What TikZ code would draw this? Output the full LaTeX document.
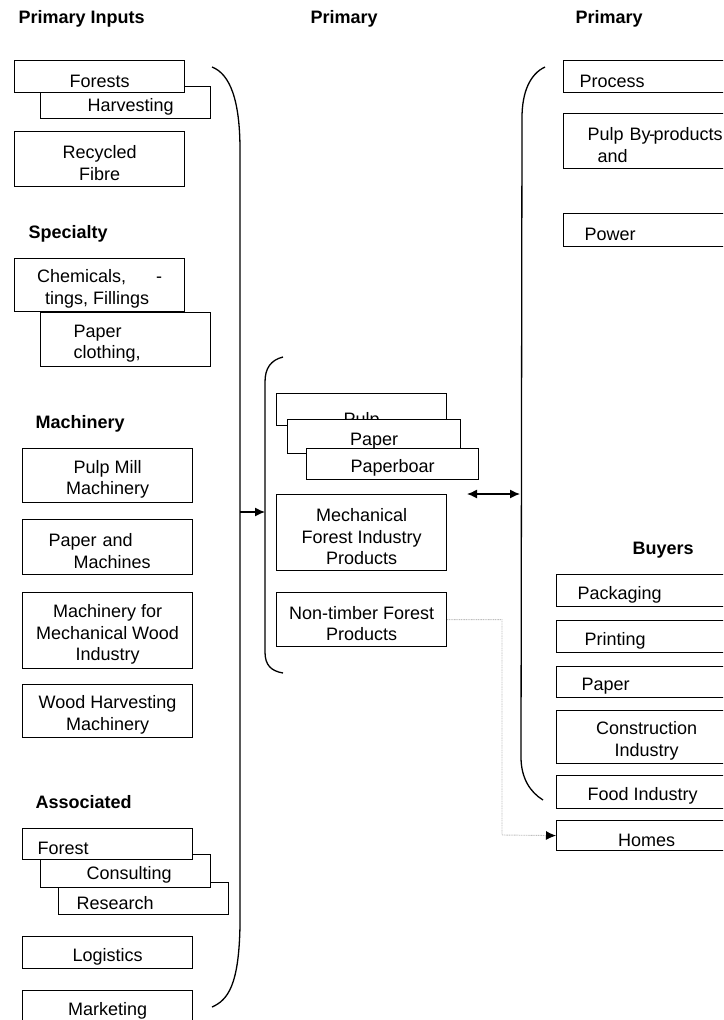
\documentclass[tikz,border=0pt]{standalone}
\usepackage{fontspec}
\setmainfont{Liberation Sans}
\usetikzlibrary{arrows.meta}
\newcommand\lift{\rule{0pt}{21pt}}
\tikzset{
  box/.style={draw, line width=1.2pt, fill=white, anchor=north west, inner sep=2pt, align=center,
    execute at begin node={\lift}},
  lbox/.style 2 args={box, align=left, inner xsep=#1, text width=#2},
  head/.style={anchor=base west, font=\fontsize{18}{21.5}\selectfont\bfseries},
  brace/.style={line width=1.3pt},
  spur/.style={gray!50, line width=0.9pt, dash pattern=on 1pt off 0.7pt},
}
\begin{document}
\begin{tikzpicture}[x=1pt, y=-1pt, >={Latex[length=10pt,width=9pt]}, font=\fontsize{18}{21.5}\selectfont]
\useasboundingbox (0,0) rectangle (723,1020);
\clip (0,0) rectangle (723,1020);

% headings
\node[head] (hin) at (15,23) {Primary Inputs};
\node[head] (hprod) at (307,23) {Primary};
\node[head] (hout) at (572,23) {Primary};
\node[head] (hspec) at (25,238) {Specialty};
\node[head] (hmach) at (32,428) {Machinery};
\node[head] (hassoc) at (32,808) {Associated};
\node[head] (hbuy) at (629,554) {Buyers};

% primary inputs
\node[lbox={47pt}{76pt}, minimum height=32pt] (harvest) at (40,86) {Harvesting};
\node[box, minimum width=170pt, minimum height=32pt] (forests) at (14,60) {Forests};
\node[box, minimum width=170pt, minimum height=55pt] (recycled) at (14,131) {\lift Recycled\\Fibre};

% specialty
\node[lbox={33pt}{104pt}, minimum height=54pt] (clothing) at (40,312) {Paper\\clothing,};
\node[box, minimum width=170pt, minimum height=53pt, align=left] (chemicals) at (14,258) {\lift Chemicals,\hspace*{30pt}-\\\hspace*{8pt}tings, Fillings};

% machinery
\node[box, minimum width=170pt, minimum height=54pt] (pulpmill) at (22,448) {\lift Pulp Mill\\Machinery};
\node[lbox={26pt}{118pt}, minimum height=55pt] (papermach) at (22,519) {Paper and\\\hspace*{25pt}Machines};
\node[box, minimum width=170pt, minimum height=76pt] (mechmach) at (22,592) {\lift Machinery for\\Mechanical Wood\\Industry};
\node[box, minimum width=170pt, minimum height=53pt] (woodharv) at (22,684) {\lift Wood Harvesting\\Machinery};

% associated
\node[lbox={18pt}{134pt}, minimum height=32pt] (research) at (58,882) {Research};
\node[lbox={46pt}{78pt}, minimum height=33pt] (consult) at (40,854) {Consulting};
\node[lbox={15pt}{140pt}, minimum height=31pt] (forest) at (22,828) {Forest};
\node[box, minimum width=170pt, minimum height=32pt] (logistics) at (22,936) {Logistics};
\node[box, minimum width=170pt, minimum height=32pt] (marketing) at (22,990) {Marketing};

% products
\node[box, minimum width=170pt, minimum height=32pt, inner ysep=0pt, text height=32pt, text depth=0pt] (pulp) at (276,393) {Pulp};
\node[box, minimum width=173pt, minimum height=34pt] (paper) at (287,419) {Paper};
\node[box, minimum width=172pt, minimum height=31pt] (paperboard) at (306,448) {Paperboar};
\node[box, minimum width=170pt, minimum height=76pt] (mechanical) at (276,494) {\lift Mechanical\\Forest Industry\\Products};
\node[box, minimum width=170pt, minimum height=54pt] (ntfp) at (276,592) {\lift Non-timber Forest\\Products};

% outputs
\node[lbox={16pt}{150pt}, minimum height=32pt] (process) at (563,60) {Process};
\node[lbox={24pt}{150pt}, minimum height=55pt] (byprod) at (563,113) {Pulp By\kern-1.5pt-\kern-1.5pt{}products\\\hspace*{10pt}and};
\node[lbox={21pt}{150pt}, minimum height=33pt] (power) at (563,213) {Power};

% buyers
\node[lbox={21pt}{150pt}, minimum height=32pt] (packaging) at (556,574) {Packaging};
\node[lbox={28pt}{150pt}, minimum height=32pt] (printing) at (556,620) {Printing};
\node[lbox={25pt}{150pt}, minimum height=31pt] (paperbuy) at (556,666) {Paper};
\node[box, minimum width=180pt, minimum height=53pt] (construct) at (556,710) {\lift Construction\\Industry};
\node[box, minimum width=172pt, minimum height=33pt] (food) at (556,775) {Food Industry};
\node[box, minimum width=180pt, minimum height=30pt] (homes) at (556,820) {Homes};

% braces
\draw[brace] (212,67) .. controls (230,74) and (240,100) .. (240,150) -- (240,925) .. controls (239,985) and (228,1000) .. (212,1007);
\draw[brace] (283,357) .. controls (271,360) and (265,368) .. (265,382) -- (265,652) .. controls (265,665) and (271,671) .. (283,673);
\draw[brace] (545,67) .. controls (530,74) and (522,92) .. (522,118) -- (521,757) .. controls (521,778) and (530,792) .. (543,800);

\coordinate (inbrace) at (240,512);
\coordinate (prodbrace) at (265,512);
\coordinate (prodout) at (467,494);
\coordinate (outbrace) at (520,494);
\coordinate (spurturn) at (502,835);

\draw[->, line width=1.3pt] (inbrace) -- (prodbrace);
\draw[<->, line width=1.3pt] (prodout) -- (outbrace);
\draw[spur, -{Latex[length=10pt,width=9pt,color=black]}] (ntfp.east) -| (spurturn) -- (homes.west);
\end{tikzpicture}
\end{document}
